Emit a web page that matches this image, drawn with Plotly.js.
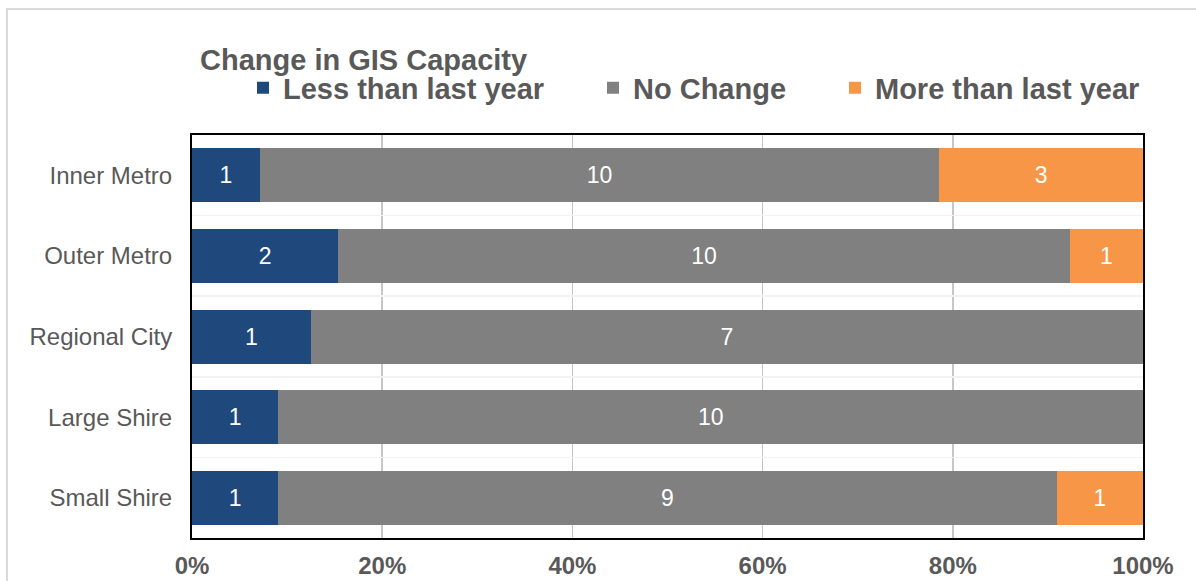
<!DOCTYPE html>
<html>
<head>
<meta charset="utf-8">
<script src="https://cdn.plot.ly/plotly-3.0.1.min.js"></script>
<style>
  html, body { margin: 0; padding: 0; background: #ffffff; }
  #frame { position: absolute; left: 6px; top: 8px; width: 1300px; height: 700px; border-left: 2px solid #d9d9d9; border-top: 2px solid #d9d9d9; pointer-events: none; }
  #chart { width: 1196px; height: 581px; }
</style>
</head>
<body>
<div id="chart"></div>
<div id="frame"></div>
<script>
const categories = ["Inner Metro", "Outer Metro", "Regional City", "Large Shire", "Small Shire"];
const lessThanLastYear = [1, 2, 1, 1, 1];
const noChange = [10, 10, 7, 10, 9];
const moreThanLastYear = [3, 1, 0, 0, 1];
const seriesNames = ["Less than last year", "No Change", "More than last year"];
const seriesColors = ["#1f497d", "#808080", "#f79646"];
const xTickValues = [0, 20, 40, 60, 80, 100];

const FONT = "Liberation Sans, Arial, sans-serif";
const TEXT_COLOR = "#595959";

function labels(vals) { return vals.map(v => v > 0 ? String(v) : ""); }

const seriesData = [lessThanLastYear, noChange, moreThanLastYear];
const legendIds = ["legend", "legend2", "legend3"];

const traces = seriesData.map((vals, i) => ({
  type: "bar",
  orientation: "h",
  name: seriesNames[i],
  y: categories,
  x: vals,
  text: labels(vals),
  textposition: "inside",
  insidetextanchor: "middle",
  textangle: 0,
  textfont: { family: FONT, size: 23, color: "#ffffff" },
  marker: { color: seriesColors[i], line: { width: 0 } },
  hoverinfo: "skip",
  legend: legendIds[i]
}));

const legendBase = {
  orientation: "h",
  xref: "container",
  yref: "container",
  xanchor: "left",
  yanchor: "middle",
  y: 1 - 88 / 581,
  bgcolor: "rgba(0,0,0,0)",
  borderwidth: 0,
  font: { family: FONT, size: 29, color: TEXT_COLOR, weight: "bold" },
  itemclick: false,
  itemdoubleclick: false
};

const layout = {
  width: 1196,
  height: 581,
  paper_bgcolor: "#ffffff",
  plot_bgcolor: "#ffffff",
  margin: { l: 192, r: 53, t: 135, b: 43 },
  barmode: "stack",
  barnorm: "percent",
  bargap: 0.33,
  title: {
    text: "<b>Change in GIS Capacity</b>",
    xref: "container",
    yref: "container",
    x: 200 / 1196,
    xanchor: "left",
    y: 1 - 60 / 581,
    yanchor: "middle",
    font: { family: FONT, size: 29, color: TEXT_COLOR }
  },
  legend: Object.assign({}, legendBase, { x: 243 / 1196 }),
  legend2: Object.assign({}, legendBase, { x: 593 / 1196 }),
  legend3: Object.assign({}, legendBase, { x: 835 / 1196 }),
  xaxis: {
    range: [0, 100],
    tickvals: xTickValues,
    ticktext: xTickValues.map(v => v + "%"),
    showgrid: true,
    gridcolor: "#c6c6c6",
    gridwidth: 1.5,
    zeroline: false,
    showline: true,
    linecolor: "#000000",
    linewidth: 2,
    mirror: true,
    ticks: "",
    ticklabelstandoff: 5,
    tickfont: { family: FONT, size: 24, color: TEXT_COLOR, weight: "bold" },
    fixedrange: true
  },
  yaxis: {
    type: "category",
    categoryorder: "array",
    categoryarray: categories,
    autorange: "reversed",
    showgrid: true,
    tickson: "boundaries",
    gridcolor: "#f2f2f2",
    gridwidth: 1.5,
    showline: true,
    linecolor: "#000000",
    linewidth: 2,
    mirror: true,
    ticks: "",
    ticklabelstandoff: 13,
    tickfont: { family: FONT, size: 24, color: TEXT_COLOR },
    fixedrange: true
  },
  showlegend: true
};

Plotly.newPlot("chart", traces, layout, { displayModeBar: false, staticPlot: true });
</script>
</body>
</html>
